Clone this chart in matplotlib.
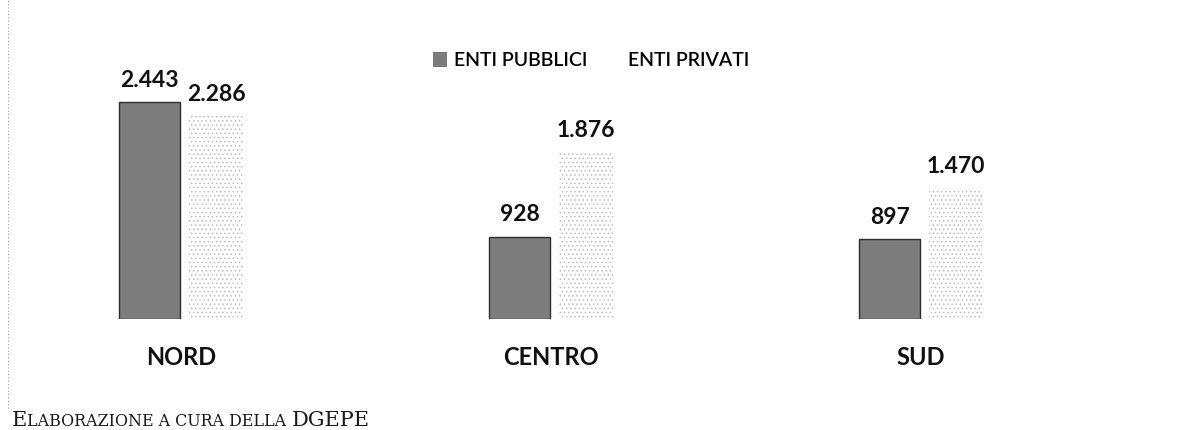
import matplotlib
matplotlib.use('Agg')
import matplotlib.pyplot as plt
import matplotlib.patches as mpatches
from matplotlib.lines import Line2D
import numpy as np

# --- data ---
regioni = ['NORD', 'CENTRO', 'SUD']
enti_pubblici = [2443, 928, 897]
enti_privati = [2286, 1876, 1470]
serie_labels = ['ENTI PUBBLICI', 'ENTI PRIVATI']


def fmt_it(v):
    # thousands separator with a dot, as in the original
    return f'{v:,}'.replace(',', '.')


plt.rcParams['font.family'] = ['Lato', 'DejaVu Sans']
plt.rcParams['hatch.linewidth'] = 0.6

fig = plt.figure(figsize=(11.85, 4.30), dpi=100)
ax = fig.add_axes([0, 111 / 430, 1, 319 / 430])

x = np.arange(len(regioni))
width = 0.165

bars_pub = ax.bar(x - 0.085, enti_pubblici, width, color='#7d7d7d',
                  edgecolor='#2e2e2e', linewidth=1.0)
bars_priv = ax.bar(x + 0.095, enti_privati, width * 0.88, color='white',
                   edgecolor='#bdbdbd', linewidth=0, hatch='....')

ax.set_xlim(-181 / 370, (1185 - 181) / 370)
ax.set_ylim(0, 3592)
ax.axis('off')

# value labels above bars
for rects, vals in ((bars_pub, enti_pubblici), (bars_priv, enti_privati)):
    for r, v in zip(rects, vals):
        ax.annotate(fmt_it(v), (r.get_x() + r.get_width() / 2, r.get_height()),
                    xytext=(0, 8), textcoords='offset points',
                    ha='center', va='bottom', fontsize=16.5, fontweight='bold',
                    color='#111111')

# category labels below the bars
for xi, name in zip(x, regioni):
    ax.annotate(name, (xi, 0), xytext=(0, -28), textcoords='offset points',
                ha='center', va='center', fontsize=17, fontweight='bold',
                color='#111111')

# legend
handles = [mpatches.Patch(facecolor='#7d7d7d', edgecolor='#555555', linewidth=0.5),
           mpatches.Patch(facecolor='white', edgecolor='white', linewidth=0)]
fig.legend(handles, serie_labels, loc='center', bbox_to_anchor=(591 / 1185, 1 - 60 / 430),
           ncol=2, frameon=False, handlelength=0.7, handleheight=0.7,
           handletextpad=0.4, columnspacing=1.0,
           prop={'family': ['Lato', 'DejaVu Sans'], 'size': 14, 'weight': 'semibold'})

# dotted vertical margin line on the left
fig.add_artist(Line2D([8 / 1185, 8 / 1185], [1 - 408 / 430, 1.0], transform=fig.transFigure,
                      color='#9a9a9a', linewidth=0.8, linestyle=(0, (1, 2))))

# footer in small caps (serif)
serif = ['DejaVu Serif']
renderer = fig.canvas.get_renderer()
ypos = 1 - 426 / 430
xpos = 12 / 1185
for piece, size in (('E', 15), ('LABORAZIONE A CURA DELLA ', 11.4), ('DGEPE', 15)):
    t = fig.text(xpos, ypos, piece, family=serif, fontsize=size, color='#1a1a1a',
                 ha='left', va='baseline')
    bb = t.get_window_extent(renderer=renderer)
    xpos += bb.width / fig.bbox.width

fig.savefig('out.png', dpi=100)
